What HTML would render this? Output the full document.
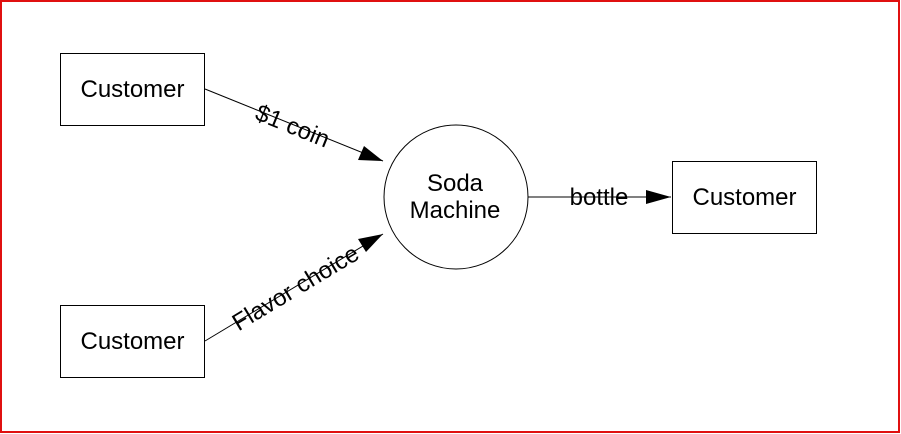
<!DOCTYPE html>
<html><head><style>
html,body{margin:0;padding:0;background:#fff;}
svg{display:block;}
text{font-family:"Liberation Sans",Arial,sans-serif;font-size:24px;fill:#000;}
</style></head><body>
<svg width="901" height="434" viewBox="0 0 901 434" xmlns="http://www.w3.org/2000/svg">
<rect x="1" y="1" width="898" height="431" fill="#fff" stroke="#e01010" stroke-width="2"/>
<rect x="60.5" y="53.5" width="144" height="72" fill="#fff" stroke="#000" stroke-width="1"/>
<rect x="60.5" y="305.5" width="144" height="72" fill="#fff" stroke="#000" stroke-width="1"/>
<rect x="672.5" y="161.5" width="144" height="72" fill="#fff" stroke="#000" stroke-width="1"/>
<circle cx="456" cy="197" r="72" fill="#fff" stroke="#000" stroke-width="1"/>
<text x="132.5" y="97" text-anchor="middle">Customer</text>
<text x="132.5" y="349" text-anchor="middle">Customer</text>
<text x="744.5" y="205" text-anchor="middle">Customer</text>
<text x="455" y="191" text-anchor="middle">Soda</text>
<text x="455" y="218" text-anchor="middle">Machine</text>
<line x1="205" y1="89" x2="383" y2="161" stroke="#000"/>
<polygon points="383,161 358,160 364,146" fill="#000"/>
<line x1="205" y1="341" x2="383" y2="234" stroke="#000"/>
<polygon points="383,234 366,252 358,239" fill="#000"/>
<line x1="528" y1="197" x2="671" y2="197" stroke="#000"/>
<polygon points="671,197 646,190 646,204" fill="#000"/>
<text x="293" y="134" text-anchor="middle" transform="rotate(22 293 125)">$1 coin</text>
<text x="295" y="296" text-anchor="middle" transform="rotate(-31 295 287)">Flavor choice</text>
<text x="599" y="205" text-anchor="middle">bottle</text>
</svg>
</body></html>
